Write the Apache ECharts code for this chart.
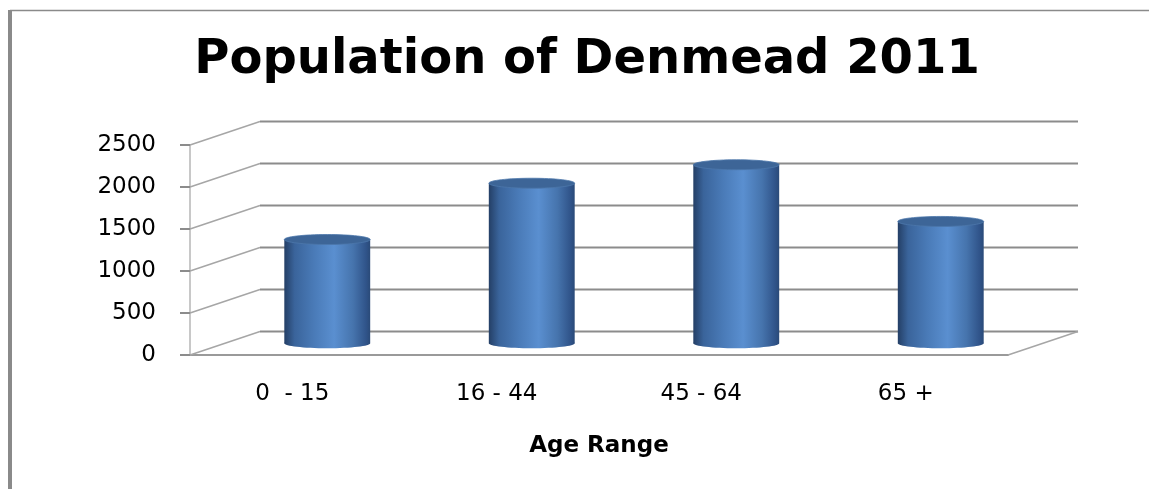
<!DOCTYPE html>
<html>
<head>
<meta charset="utf-8">
<title>Population of Denmead 2011</title>
<script src="https://cdn.jsdelivr.net/npm/echarts@6/dist/echarts.min.js"></script>
<style>
  html, body { margin: 0; padding: 0; background: #fff; }
  #chart { width: 1149px; height: 489px; }
</style>
</head>
<body>
<div id="chart"></div>
<script>
const categories = ["0  - 15", "16 - 44", "45 - 64", "65 +"];
const population = [1235, 1905, 2125, 1450];
const yTicks = [0, 500, 1000, 1500, 2000, 2500];

// fake 3d depth of the wall / floor
const DEPTH_X = 70;
const DEPTH_Y = -23.5;
const FONT = "DejaVu Sans";

const chart = echarts.init(document.getElementById("chart"));

function wallItem(params, api) {
  const rect = params.coordSys;
  const y = api.coord([0, api.value(0)])[1];
  const x0 = rect.x;
  const x1 = rect.x + rect.width;
  const children = [
    {
      type: "line",
      shape: { x1: x0, y1: y, x2: x0 + DEPTH_X, y2: y + DEPTH_Y },
      style: { stroke: "#a6a6a6", lineWidth: 1.5 }
    },
    {
      type: "line",
      shape: { x1: x0 + DEPTH_X, y1: y + DEPTH_Y, x2: x1 + DEPTH_X, y2: y + DEPTH_Y },
      style: { stroke: "#8c8c8c", lineWidth: 2 }
    }
  ];
  if (api.value(0) === 0) {
    children.push({
      type: "line",
      shape: { x1: x1, y1: y, x2: x1 + DEPTH_X, y2: y + DEPTH_Y },
      style: { stroke: "#a6a6a6", lineWidth: 1.5 }
    });
  }
  return { type: "group", children: children };
}

function cylinderItem(params, api) {
  const idx = api.value(0);
  const top = api.coord([idx, api.value(1)]);
  const base = api.coord([idx, 0]);
  const w = api.size([1, 0])[0] * 0.42;
  const cx = top[0] + DEPTH_X / 2;
  const yTop = top[1] + DEPTH_Y / 2;
  const yBot = base[1] + DEPTH_Y / 2;
  const rx = w / 2;
  const ry = 5;
  const body = new echarts.graphic.LinearGradient(0, 0, 1, 0, [
    { offset: 0, color: "#243f66" },
    { offset: 0.12, color: "#3a649b" },
    { offset: 0.35, color: "#4a7bb8" },
    { offset: 0.58, color: "#5a8fd0" },
    { offset: 0.8, color: "#4674ad" },
    { offset: 0.95, color: "#30548a" },
    { offset: 1, color: "#2a4a78" }
  ]);
  return {
    type: "group",
    children: [
      {
        type: "ellipse",
        shape: { cx: cx, cy: yBot, rx: rx, ry: ry },
        style: { fill: body }
      },
      {
        type: "rect",
        shape: { x: cx - rx, y: yTop, width: w, height: yBot - yTop },
        style: { fill: body }
      },
      {
        type: "ellipse",
        shape: { cx: cx, cy: yTop, rx: rx, ry: ry },
        style: { fill: "#3d6597", stroke: "#4d77ab", lineWidth: 0.8 }
      }
    ]
  };
}

const option = {
  backgroundColor: "#fff",
  animation: false,
  title: {
    text: "Population of Denmead 2011",
    left: 582,
    top: 32,
    textAlign: "center",
    textStyle: { fontFamily: FONT, fontWeight: "bold", fontSize: 48, color: "#000" }
  },
  graphic: [
    { type: "line", shape: { x1: 10, y1: 10.5, x2: 1149, y2: 10.5 }, style: { stroke: "#8a8a8a", lineWidth: 1.5 } },
    { type: "line", shape: { x1: 10, y1: 10, x2: 10, y2: 489 }, style: { stroke: "#8a8a8a", lineWidth: 4 } }
  ],
  grid: { left: 190, top: 145, width: 818, height: 210 },
  xAxis: {
    type: "category",
    data: categories,
    boundaryGap: true,
    axisLine: { lineStyle: { color: "#9a9a9a", width: 2 } },
    axisTick: { length: 8, lineStyle: { color: "#8c8c8c", width: 2 } },
    axisLabel: { fontFamily: FONT, fontSize: 23, color: "#000", margin: 28 },
    name: "Age Range",
    nameLocation: "middle",
    nameGap: 80,
    nameTextStyle: { fontFamily: FONT, fontWeight: "bold", fontSize: 23, color: "#000" }
  },
  yAxis: {
    type: "value",
    min: 0,
    max: 2500,
    interval: 500,
    axisLine: { show: true, lineStyle: { color: "#c8c8c8", width: 2 } },
    axisTick: { show: true, length: 10, lineStyle: { color: "#8c8c8c", width: 2 } },
    axisLabel: {
      fontFamily: FONT, fontSize: 23, color: "#000", margin: 34,
      formatter: function (v) { return String(v); }
    },
    splitLine: { show: false }
  },
  series: [
    {
      type: "custom",
      name: "wall",
      z: 1,
      silent: true,
      renderItem: wallItem,
      data: yTicks.map(function (v) { return [v]; })
    },
    {
      type: "custom",
      name: "Population",
      z: 3,
      renderItem: cylinderItem,
      encode: { x: 0, y: 1 },
      data: population.map(function (v, i) { return [i, v]; })
    }
  ]
};

chart.setOption(option);
</script>
</body>
</html>
